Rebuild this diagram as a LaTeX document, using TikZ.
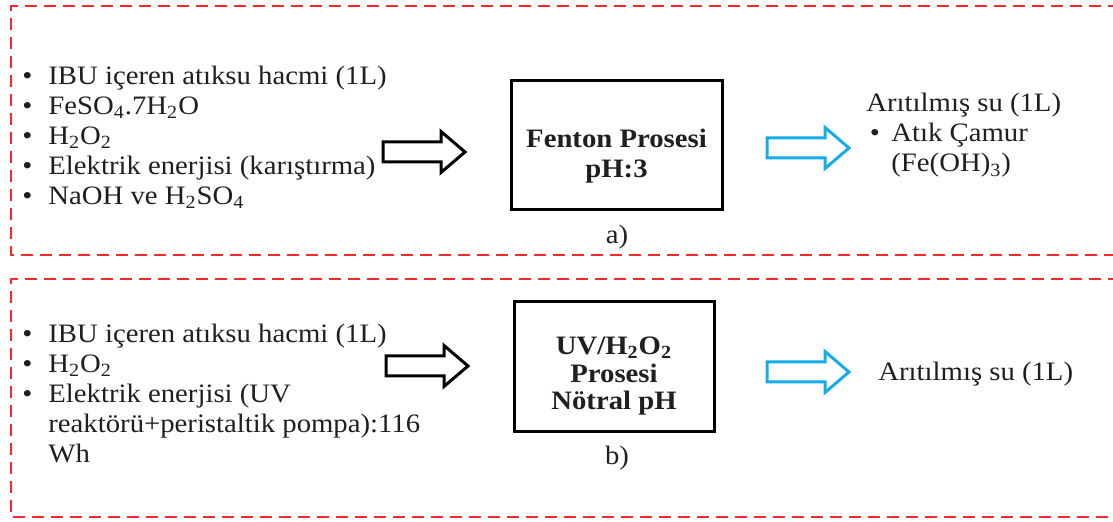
\documentclass[tikz,border=0pt]{standalone}
\usepackage{fontspec}
\setmainfont{Liberation Serif}[FakeStretch=1.08]
\definecolor{frameRed}{RGB}{250,40,40}
\definecolor{outBlue}{RGB}{20,172,236}
\newcommand{\itm}{\makebox[13pt][l]{•}}
\tikzset{
  pics/blockarrow/.style={code={
    \draw[line width=1.5pt,line join=miter,#1] (0,-10) -- (58,-10) -- (58,-20.5) -- (82,0)
      -- (58,20.5) -- (58,10) -- (0,10) -- cycle;
  }}
}

\begin{document}
\begin{tikzpicture}[x=0.5pt,y=0.5pt,
  frame/.style={draw=frameRed,line width=1pt,dash pattern=on 6pt off 3.5pt},
  list/.style={anchor=north west,inner sep=0pt,align=left,text=black!88,
    font=\fontsize{13.3}{15}\selectfont},
  proc/.style={draw,line width=1.5pt,align=center,inner sep=0pt,text=black!88},
  caption/.style={inner sep=0pt,text=black!88,font=\fontsize{13.3}{15}\selectfont}]
  \useasboundingbox (0,0) rectangle (1113,522);
  % a) Fenton prosesi
  \draw[frame] (1120,516) -- (11,516) -- (11,267) -- (1120,267);
  \node[list] (inA) at (22,459) {\strut\itm IBU içeren atıksu hacmi (1L)\\
    \itm FeSO\textsubscript{4}.7H\textsubscript{2}O\\
    \itm H\textsubscript{2}O\textsubscript{2}\\
    \itm Elektrik enerjisi (karıştırma)\\
    \itm NaOH ve H\textsubscript{2}SO\textsubscript{4}};
  \pic at (383,370) {blockarrow=black};
  \node[proc,minimum width=105.5pt,minimum height=64.5pt,
    font=\fontsize{13.3}{15}\selectfont\bfseries] (fenton) at (616.5,376.5)
    {\rule{0pt}{20pt}Fenton Prosesi\\pH:3};
  \node[caption] (capA) at (617,285) {a)};
  \pic at (767,374) {blockarrow=outBlue};
  \node[list] (outA) at (866,431.5) {\strut Arıtılmış su (1L)\\
    \hspace*{1.75pt}\makebox[10.75pt][l]{•}Atık Çamur\\
    \hspace*{12.5pt}(Fe(OH)\textsubscript{3})};
  % b) UV/H2O2 prosesi
  \draw[frame] (1120,243) -- (11,243) -- (11,5) -- (1120,5);
  \node[list] (inB) at (22,201) {\strut\itm IBU içeren atıksu hacmi (1L)\\
    \itm H\textsubscript{2}O\textsubscript{2}\\
    \itm Elektrik enerjisi (UV\\
    \hspace*{13pt}reaktörü+peristaltik pompa):116\\
    \hspace*{13pt}Wh};
  \pic at (386,156) {blockarrow=black};
  \node[proc,minimum width=100pt,minimum height=65pt,
    font=\fontsize{13.3}{13.75}\selectfont\bfseries] (uvh) at (614,155)
    {\rule{0pt}{18pt}UV/H\textsubscript{2}O\textsubscript{2}\\Prosesi\\Nötral pH};
  \node[caption] (capB) at (617,64) {b)};
  \pic at (767,150) {blockarrow=outBlue};
  \node[caption,anchor=base west] (outB) at (878,141.5) {Arıtılmış su (1L)};
\end{tikzpicture}
\end{document}
